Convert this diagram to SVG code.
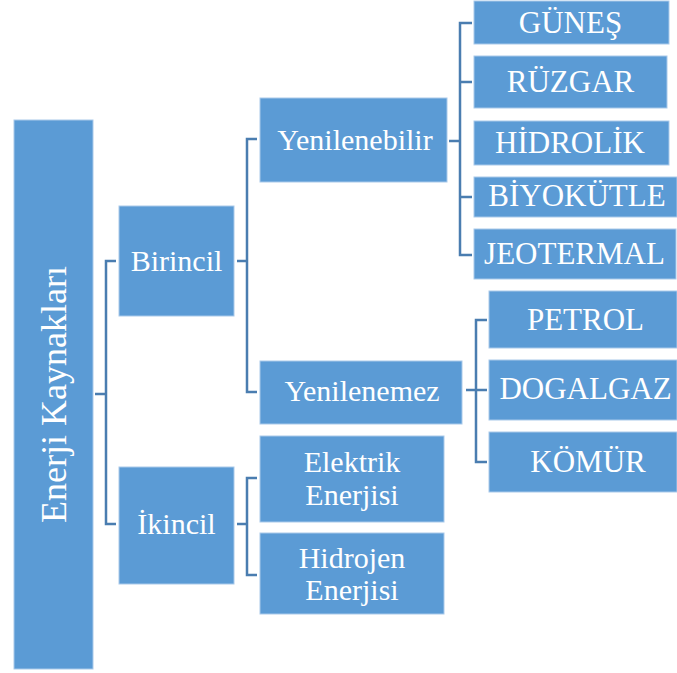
<svg xmlns="http://www.w3.org/2000/svg" width="677" height="673" viewBox="0 0 677 673">
<style>
.box{fill:#5B9BD5;stroke:#A9C9EA;stroke-width:1}
.t{fill:#FFFFFF;font-family:'Liberation Serif','DejaVu Serif',serif;text-anchor:middle}
.m{font-size:30px}
.l{font-size:31px}
.r{font-size:36px}
.c{fill:none;stroke:#4A7DB0;stroke-width:2.5}
</style>
<rect width="677" height="673" fill="#FFFFFF"/>
<g id="connectors">
<path class="c" d="M95 394H106M116 261H106V524H116"/>
<path class="c" d="M237 261H247M257 139H247V392H257"/>
<path class="c" d="M237 524H247M257 478H247V575H257"/>
<path class="c" d="M449 141H460M472 23H460V255H472M460 82H472M460 197H472"/>
<path class="c" d="M466 390H487M487 320H476V462H487"/>
</g>
<g id="root"><rect class="box" x="14" y="120" width="79" height="549"/><text class="t r" font-family="Liberation Serif, serif" transform="translate(66 394.5) rotate(-90)" x="0" y="0">Enerji Kaynakları</text></g>
<g id="birincil"><rect class="box" x="119" y="206" width="115" height="110"/><text class="t m" font-family="Liberation Serif, serif" x="176.5" y="271">Birincil</text></g>
<g id="ikincil"><rect class="box" x="119" y="467" width="115" height="117"/><text class="t m" font-family="Liberation Serif, serif" x="176.5" y="534">İkincil</text></g>
<g id="yenilenebilir"><rect class="box" x="260" y="98" width="187" height="84"/><text class="t m" font-family="Liberation Serif, serif" x="355" y="150">Yenilenebilir</text></g>
<g id="yenilenemez"><rect class="box" x="260" y="361" width="202" height="63"/><text class="t m" font-family="Liberation Serif, serif" x="362" y="401">Yenilenemez</text></g>
<g id="elektrik"><rect class="box" x="260" y="436" width="184" height="86"/><text class="t m" font-family="Liberation Serif, serif" x="352" y="472">Elektrik</text><text class="t m" font-family="Liberation Serif, serif" x="352" y="505">Enerjisi</text></g>
<g id="hidrojen"><rect class="box" x="260" y="533" width="184" height="81"/><text class="t m" font-family="Liberation Serif, serif" x="352" y="568">Hidrojen</text><text class="t m" font-family="Liberation Serif, serif" x="352" y="600">Enerjisi</text></g>
<g id="gunes"><rect class="box" x="474" y="1" width="195" height="43"/><text class="t l" font-family="Liberation Serif, serif" x="570.5" y="33">GÜNEŞ</text></g>
<g id="ruzgar"><rect class="box" x="474" y="56" width="193" height="52"/><text class="t l" font-family="Liberation Serif, serif" x="570.5" y="92">RÜZGAR</text></g>
<g id="hidrolik"><rect class="box" x="474" y="121" width="195" height="44"/><text class="t l" font-family="Liberation Serif, serif" x="570" y="153">HİDROLİK</text></g>
<g id="biyokutle"><rect class="box" x="474" y="177" width="203" height="40"/><text class="t l" font-family="Liberation Serif, serif" x="577" y="206">BİYOKÜTLE</text></g>
<g id="jeotermal"><rect class="box" x="474" y="229" width="202" height="50"/><text class="t l" font-family="Liberation Serif, serif" x="574.5" y="264">JEOTERMAL</text></g>
<g id="petrol"><rect class="box" x="489" y="291" width="188" height="57"/><text class="t l" font-family="Liberation Serif, serif" x="585.5" y="330">PETROL</text></g>
<g id="dogalgaz"><rect class="box" x="489" y="360" width="188" height="60"/><text class="t l" font-family="Liberation Serif, serif" x="585.5" y="399">DOGALGAZ</text></g>
<g id="komur"><rect class="box" x="489" y="432" width="188" height="60"/><text class="t l" font-family="Liberation Serif, serif" x="588" y="472">KÖMÜR</text></g>
</svg>
